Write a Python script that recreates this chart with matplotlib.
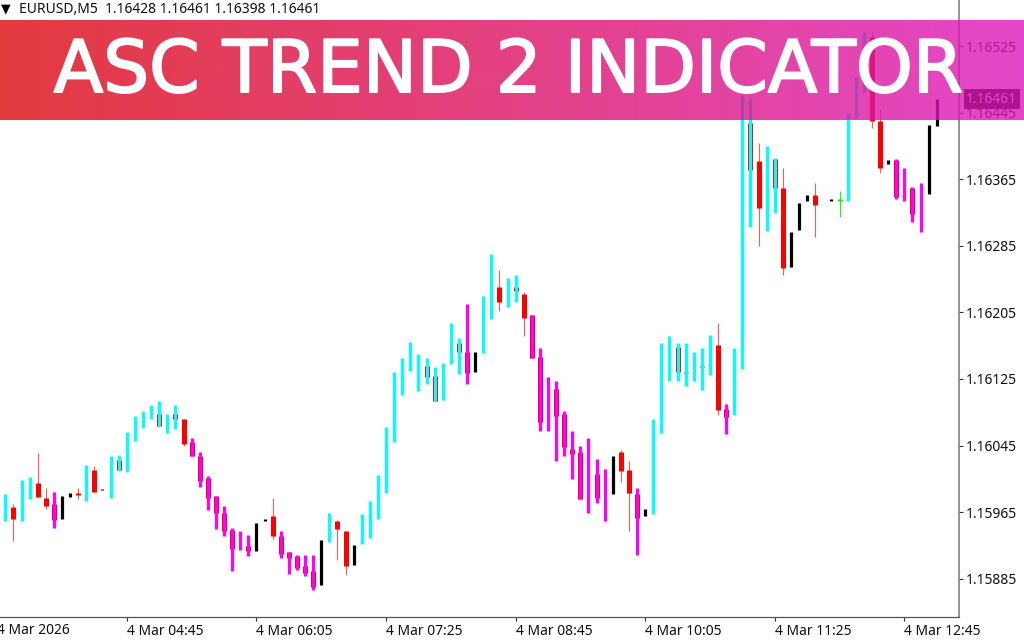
import matplotlib
matplotlib.use("Agg")
import matplotlib.pyplot as plt
import matplotlib.patheffects as pe
import numpy as np

# Preise in Points (1e-5), pro Kerze, von links nach rechts
n = np.nan
bar_high = [115987,115975,116004,116007,116036,115994,115989,115985,115988,115994,
            116022,116021,115993,116033,116034,116061,116081,116087,116094,116099,
            116083,116094,116077,116054,116037,116008,115985,115973,115946,115942,
            115938,115952,115957,115982,115943,115917,115914,115914,115914,115932,
            115964,115956,115943,115926,115963,115979,116010,116067,116134,116150,
            116170,116155,116150,116140,116144,116192,116174,116215,116157,116225,
            116275,116256,116246,116250,116229,116202,116162,116127,116123,116086,
            116063,116044,116054,116029,116017,116033,116040,116027,115994,115969,
            116077,116168,116177,116168,116168,116157,116162,116178,116192,116095,
            116162,116466,116462,116408,116405,116391,116379,116302,116337,116346,
            116361,n,116341,116351,116445,116488,116542,116542,116449,116388,
            116389,116379,116356,116361,116430,116461]
bar_low = [115954,115930,115955,115981,115983,115969,115946,115957,115983,115981,
           115979,115989,115992,115982,116014,116013,116051,116066,116077,116069,
           116060,116065,116044,116032,115995,115968,115945,115936,115894,115920,
           115912,115918,115954,115933,115910,115891,115896,115888,115871,115877,
           115929,115907,115890,115902,115927,115934,115957,115988,116049,116106,
           116135,116111,116119,116098,116100,116143,116131,116119,116134,116156,
           116197,116207,116212,116218,116177,116150,116062,116062,116027,116032,
           116005,115981,115964,115976,115954,115987,116001,115943,115914,115960,
           115963,116060,116122,116122,116117,116122,116112,116130,116082,116059,
           116082,116137,116308,116285,116303,116324,116250,116259,116304,116339,
           116296,n,116339,116319,116339,116438,116470,116427,116373,116383,
           116341,116339,116314,116301,116347,116429]
body_top = [n,115971,n,n,116000,115982,115975,n,n,115988,
            n,116016,n,n,116028,n,n,n,n,116083,
            n,116083,116077,116049,116033,116006,115985,115964,115944,n,
            115924,n,n,115960,115936,115917,115912,115900,115894,n,
            n,115955,115943,n,n,n,n,n,n,n,
            n,n,116141,116129,n,n,116168,116157,n,n,
            n,116235,n,116235,116227,116202,116152,n,116113,116083,
            116041,116037,n,116011,n,n,116037,116016,115987,n,
            n,n,n,116163,116134,n,116141,n,116166,116089,
            n,n,116432,116387,n,116389,116354,n,n,n,
            116346,n,n,116341,n,n,n,116536,116435,n,
            116388,n,116355,n,n,n]
body_bot = [n,115957,n,n,115983,115972,115956,n,n,115986,
            n,115989,n,n,116016,n,n,n,n,116069,
            n,116077,116047,116032,116003,115982,115964,115942,115921,n,
            115918,n,n,115936,115915,115910,115898,115892,115875,n,
            n,115945,115900,n,n,n,n,n,n,n,
            n,n,116128,116099,n,n,116157,116132,n,n,
            n,116218,n,116231,116198,116150,116073,n,116081,116043,
            116035,115981,n,115982,n,n,116015,115988,115958,n,
            n,n,n,116134,116132,n,116139,n,116088,116079,
            n,n,116376,116330,n,116354,116258,n,n,n,
            116334,n,n,116339,n,n,n,116435,116379,n,
            116344,n,116323,n,n,n]
# c = cyan, m = magenta, k = schwarz, r = nur rote Kerze, g = nur gruene Kerze, _ = keine
bar_color = list("crccrrmkkr" "crkccccccc" "ccrmmmmmmm" "mkkrmmmmmk" "crrkcccccc"
                 "cccccccmkc" "crccrmmmmm" "mmmmmkrrmk" "ccccccccrm" "cccrccrkkk"
                 "r_kgcccrrk" "mmmmkk")

header = "EURUSD,M5  1.16428 1.16461 1.16398 1.16461"
title = "ASC TREND 2 INDICATOR"
last_price = 1.16461
price_ticks = [1.16525, 1.16445, 1.16365, 1.16285, 1.16205, 1.16125, 1.16045, 1.15965, 1.15885]
time_idx = [15, 31, 47, 63, 79, 95, 111]
time_labels = ["4 Mar 04:45", "4 Mar 06:05", "4 Mar 07:25",
               "4 Mar 08:45", "4 Mar 10:05", "4 Mar 11:25", "4 Mar 12:45"]
first_idx = -1
first_label = "4 Mar 2026"

plt.rcParams["font.family"] = ["Noto Sans", "DejaVu Sans"]

W, H = 1024, 640
fig = plt.figure(figsize=(W / 100, H / 100), dpi=100, facecolor="white")
ax = fig.add_axes([0, 1 - 617 / H, 959 / W, 617 / H])

x = np.arange(len(bar_high))
high = np.array(bar_high) / 1e5
low = np.array(bar_low) / 1e5
top = np.array(body_top) / 1e5
bot = np.array(body_bot) / 1e5
col = np.array(bar_color)

px = 0.72  # 1 px in pt
is_red = col == "r"
is_green = col == "g"
ind = {"c": "#00FFFF", "m": "#FF00FF", "k": "#000000"}

ax.vlines(x[is_red], low[is_red], high[is_red], color="#FF5A5A", lw=1.1 * px, zorder=2)
ax.vlines(x[is_green], low[is_green], high[is_green], color="#22EE22", lw=1.2 * px, zorder=2)
ax.vlines(x, bot, top, color=np.where(is_green, "#22EE22", "#FF0000"), lw=5 * px, zorder=3)
for key, c in ind.items():
    m = col == key
    ax.vlines(x[m], low[m], high[m], color=c, lw=3.2 * px, zorder=4)

for side in ["top", "left"]:
    ax.spines[side].set_visible(False)
ax.spines["right"].set_color("#777777")
ax.spines["bottom"].set_color("#555555")
ax.spines["right"].set_linewidth(1.1)
ax.spines["bottom"].set_linewidth(0.9)

ax.yaxis.tick_right()
ax.set_yticks(price_ticks, [f"{p:.5f}" for p in price_ticks])
ax.set_xticks(time_idx, time_labels, ha="left")
ax.tick_params(axis="y", length=3, width=0.8, color="#333333", pad=1.8, labelsize=10, labelcolor="#111111")
ax.tick_params(axis="x", length=3, width=0.8, color="#333333", pad=2.2, labelsize=10, labelcolor="#111111")

# Pixelraster wie im MT4-Chart: 8.1 px pro Kerze, 66.6 px pro 0.0008 (erst nach den Ticks setzen)
ax.set_xlim(-5.3 / 8.1, (959 - 5.3) / 8.1)
ax.set_ylim(1.16525 - (617 - 46) / 66.6 * 0.0008, 1.16525 + 46 / 66.6 * 0.0008)

# erstes Datum liegt links halb ausserhalb, deshalb kein normaler Tick
ax.text(first_idx, -6.5 / 617, first_label, transform=ax.get_xaxis_transform(), fontsize=10,
        color="#111111", ha="left", va="top", clip_on=False)

# aktueller Kurs als Kasten rechts
ax.text(966 / 959, last_price, f"{last_price:.5f}", transform=ax.get_yaxis_transform(), color="white",
        fontsize=10, va="center", ha="left", clip_on=False, zorder=6,
        bbox=dict(boxstyle="square,pad=0.18", fc="black", ec="black", lw=0))

# Kopfzeile
fig.text(19 / W, 1 - 9.5 / H, header, fontsize=10, va="center", ha="left", color="#111111")
fig.text(6 / W, 1 - 8.5 / H, "\u25bc", fontsize=9, va="center", ha="center", color="black",
         family=["DejaVu Sans"])

# Banner mit Farbverlauf, leicht transparent
banner = fig.add_axes([0, 1 - 120 / H, 1, 100 / H], zorder=10)
c0 = np.array([221, 8, 14, 255]) / 255
c1 = np.array([220, 26, 189, 255]) / 255
t = np.linspace(0, 1, 512)[None, :, None]
grad = c0 * (1 - t) + c1 * t
grad[..., 3] = 0.8
banner.imshow(grad, aspect="auto", extent=[0, 1, 0, 1], interpolation="bilinear")
banner.set_xlim(0, 1)
banner.set_ylim(0, 1)
banner.axis("off")
banner.text(508.5 / W, 0.28, title, color="white", fontsize=52.1, family="DejaVu Sans",
            ha="center", va="baseline",
            path_effects=[pe.withStroke(linewidth=1.4, foreground="white")])

fig.savefig("out.png", dpi=100)
